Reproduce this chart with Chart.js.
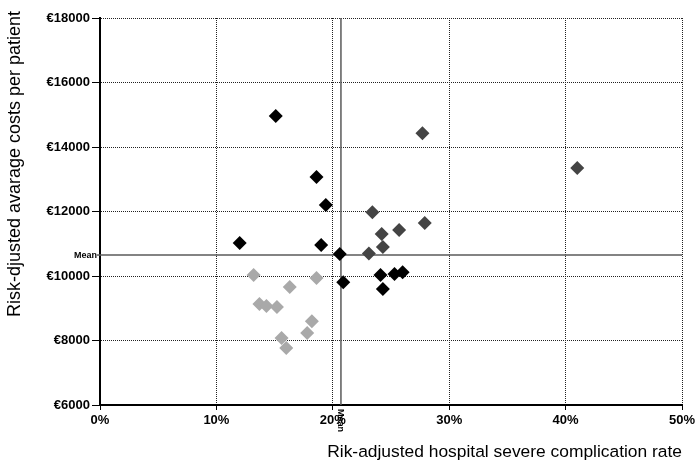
<!DOCTYPE html>
<html>
<head>
<meta charset="utf-8">
<script src="https://cdn.jsdelivr.net/npm/chart.js@4.4.1/dist/chart.umd.min.js"></script>
<style>
  html, body { margin: 0; padding: 0; background: #fff; }
  #wrap { width: 696px; height: 467px; }
</style>
</head>
<body>
<div id="wrap"><canvas id="chart"></canvas></div>
<script>
// hospitals, split by shade in the original figure
const darkX = [15.1, 18.6, 19.4, 12.0, 19.0, 20.6, 20.9, 24.1, 24.3, 25.3, 26.0]
const darkY = [14960, 13070, 12200, 11020, 10960, 10680, 9810, 10030, 9600, 10060, 10120]

const midX = [41.0, 27.7, 23.4, 24.2, 25.7, 27.9, 24.3, 23.1]
const midY = [13350, 14430, 11980, 11300, 11430, 11640, 10900, 10700]

const lightX = [13.2, 18.6, 16.3, 13.7, 14.3, 15.2, 18.2, 17.8, 15.6, 16.0]
const lightY = [10030, 9940, 9660, 9130, 9070, 9040, 8600, 8230, 8080, 7770]

const meanRate = 20.7
const meanCost = 10650

const xTicks = [0, 10, 20, 30, 40, 50]
const yTicks = [6000, 8000, 10000, 12000, 14000, 16000, 18000]

const yTitle = "Risk-djusted avarage costs per patient"
const xTitle = "Rik-adjusted hospital severe complication rate"

const font = "Arial, 'Liberation Sans', sans-serif"

const pts = (xs, ys) => xs.map((x, i) => ({ x: x, y: ys[i] }))

const diamonds = (data, color) => ({
  type: "scatter",
  data: data,
  pointStyle: "rectRot",
  pointRadius: 7,
  pointBackgroundColor: color,
  pointBorderWidth: 0,
  pointHoverRadius: 7
})

const meanLine = (data) => ({
  type: "line",
  data: data,
  borderColor: "#5a5a5a",
  borderWidth: 1.5,
  pointRadius: 0,
  fill: false
})

// "Mean" captions next to both axes, plus the y title (sits a bit high in the original)
const extras = {
  id: "extras",
  afterDraw(chart) {
    const { ctx, scales } = chart
    const yPix = scales.y.getPixelForValue(meanCost)
    const xPix = scales.x.getPixelForValue(meanRate)
    ctx.save()
    ctx.strokeStyle = "#5a5a5a"
    ctx.lineWidth = 1.5
    ctx.beginPath()
    ctx.moveTo(scales.x.left - 3, yPix)
    ctx.lineTo(scales.x.left, yPix)
    ctx.stroke()
    ctx.fillStyle = "#000"
    ctx.font = "bold 9px " + font
    ctx.textAlign = "right"
    ctx.textBaseline = "middle"
    ctx.fillText("Mean", scales.x.left - 3, yPix)
    ctx.save()
    ctx.translate(xPix, scales.y.bottom + 4)
    ctx.rotate(Math.PI / 2)
    ctx.textAlign = "left"
    ctx.fillText("Mean", 0, 0)
    ctx.restore()

    ctx.font = "18px " + font
    ctx.textAlign = "center"
    ctx.translate(15, 164)
    ctx.rotate(-Math.PI / 2)
    ctx.fillText(yTitle, 0, 0)
    ctx.restore()
  }
}

new Chart(document.getElementById("chart"), {
  data: {
    datasets: [
      diamonds(pts(darkX, darkY), "#000000"),
      diamonds(pts(midX, midY), "#444444"),
      diamonds(pts(lightX, lightY), "#a9a9a9"),
      meanLine([{ x: xTicks[0], y: meanCost }, { x: xTicks[xTicks.length - 1], y: meanCost }]),
      meanLine([{ x: meanRate, y: yTicks[0] }, { x: meanRate, y: yTicks[yTicks.length - 1] }])
    ]
  },
  plugins: [extras],
  options: {
    responsive: true,
    maintainAspectRatio: false,
    animation: false,
    layout: { padding: { left: 0, right: 14, top: 18, bottom: 0 } },
    plugins: {
      legend: { display: false },
      tooltip: { enabled: false }
    },
    scales: {
      x: {
        type: "linear",
        min: xTicks[0],
        max: xTicks[xTicks.length - 1],
        afterFit: (s) => { s.height = 62; s.paddingLeft = 0; s.paddingRight = 0 },
        afterBuildTicks: (s) => { s.ticks = xTicks.map(v => ({ value: v })) },
        grid: { color: "#222", lineWidth: 1, tickLength: 5, tickColor: "#000" },
        border: { color: "#000", width: 2, dash: [1, 1] },
        ticks: {
          color: "#000",
          padding: 3,
          maxRotation: 0,
          font: { family: font, size: 13, weight: "bold" },
          callback: (v) => v + "%"
        },
        title: {
          display: true,
          text: xTitle,
          align: "end",
          color: "#000",
          font: { family: font, size: 17.4 }
        }
      },
      y: {
        type: "linear",
        min: yTicks[0],
        max: yTicks[yTicks.length - 1],
        afterFit: (s) => { s.width = 100 },
        afterBuildTicks: (s) => { s.ticks = yTicks.map(v => ({ value: v })) },
        grid: { color: "#222", lineWidth: 1, tickLength: 8, tickColor: "#000" },
        border: { color: "#000", width: 2, dash: [1, 1] },
        ticks: {
          color: "#000",
          padding: 2,
          font: { family: font, size: 13, weight: "bold" },
          callback: (v) => "€" + v
        }
      }
    }
  }
})
</script>
</body>
</html>
